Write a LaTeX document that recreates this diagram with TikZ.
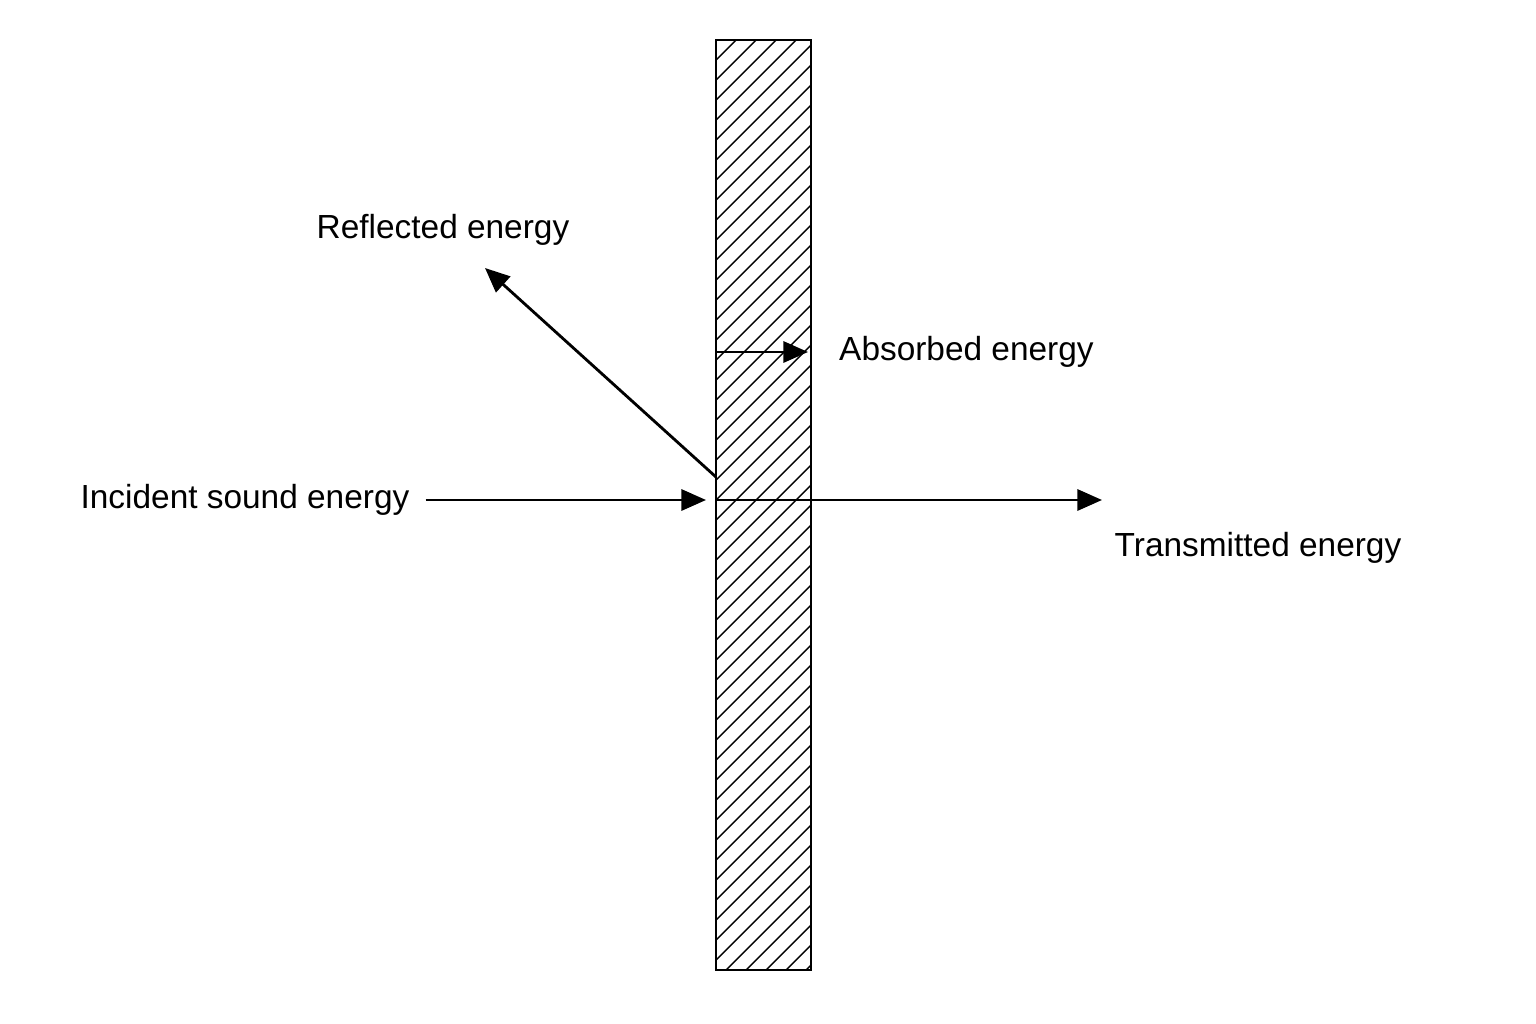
\documentclass[tikz,border=0pt]{standalone}
\usepackage{fontspec}
\setmainfont{Liberation Sans}
\usetikzlibrary{arrows.meta, positioning}

\begin{document}
\begin{tikzpicture}[x=0.01cm, y=-0.01cm, >={Triangle[length=7pt,width=6pt]}, line cap=butt,
	energy/.style={->, thick},
	lbl/.style={font=\fontsize{9.5}{11}\selectfont, inner sep=1pt}]
	
	\useasboundingbox (0,0) rectangle (1536,1024);
	
	%========================
	% wall with hatching
	%========================
	\begin{scope}
		\clip (716,40) rectangle (811,970);
		\foreach \k in {0,...,60}
		\draw[thin] (716,{40+\k*20}) -- ++(95,-95);
	\end{scope}
	\draw[thick] (716,40) rectangle (811,970);
	
	% points on the wall
	\coordinate (hit) at (716,500);
	\coordinate (refstart) at (716,477);
	\coordinate (absstart) at (716,352);
	
	% labels
	\node[lbl] (incident) at (245,500) {Incident sound energy};
	\node[lbl] (reflected) at (443,230) {Reflected energy};
	\node[lbl, anchor=west] (absorbed) at (835,352) {Absorbed energy};
	\node[lbl] (transmitted) at (1258,548) {Transmitted energy};
	
	% free ends
	\coordinate (incend) at (706,500);
	\coordinate (refend) at (485,268);
	\coordinate (absend) at (808,352);
	\coordinate (trend) at (1102,500);
	
	% arrows
	\draw[energy] (incident.east) ++(12,0) -- (incend);
	\draw[energy] (refstart) -- (refend);
	\draw[energy] (absstart) -- (absend);
	\draw[energy] (hit) -- (trend);
	
\end{tikzpicture}
\end{document}
